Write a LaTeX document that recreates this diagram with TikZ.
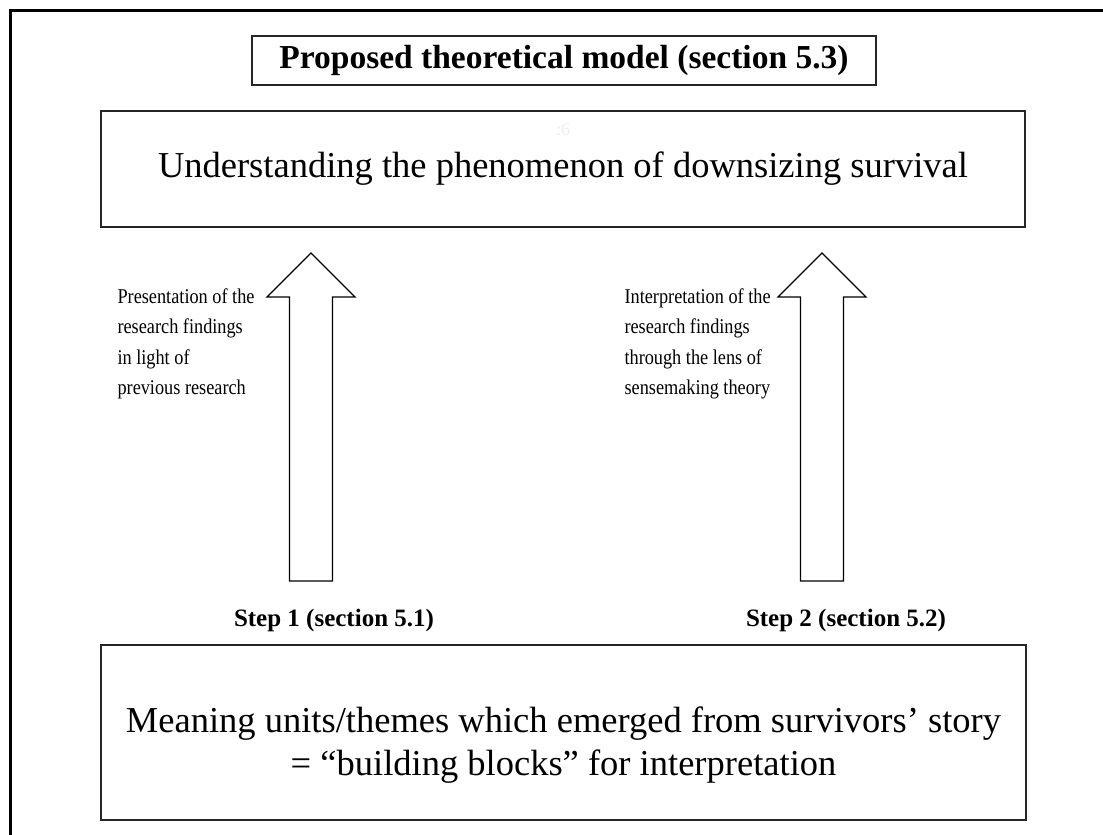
\documentclass[tikz,border=0pt]{standalone}
\usepackage{fontspec}
\setmainfont{Liberation Serif}
\newfontfamily\narrowserif[FakeStretch=0.87]{Liberation Serif}
\usetikzlibrary{calc}
\begin{document}
\begin{tikzpicture}[x=1pt,y=-1pt,
  frame/.style={line width=2.4pt},
  box/.style={draw=black!85,line width=1.4pt},
  blockarrow/.style={draw=black,line width=1.2pt,fill=white,line join=miter},
  maintext/.style={font=\fontsize{36.5}{43}\selectfont,align=center},
  sidetext/.style={font=\narrowserif\fontsize{21}{30.5}\selectfont,align=left,anchor=north west},
  steplabel/.style={font=\fontsize{25}{28}\selectfont\bfseries},
  pics/uparrow/.style={code={
    \draw[blockarrow] (-21.5,0) -- (-21.5,-284) -- (-44,-284) -- (0,-328)
      -- (44,-284) -- (21.5,-284) -- (21.5,0) -- cycle;}}]
\useasboundingbox (0,0) rectangle (1103,835);
% page frame (left and top edges)
\draw[frame] (10.5,835) -- (10.5,10.5) -- (1103,10.5);

% title
\node[box,minimum width=624,minimum height=49,font=\fontsize{33.5}{36}\selectfont\bfseries]
  (title) at (564,60.5) {Proposed theoretical model (section 5.3)};

% upper box
\node[box,minimum width=924,minimum height=116,maintext] (model) at (563,169) {};
\node[maintext] (modeltext) at (model.center) {Understanding the phenomenon of downsizing survival};
\node[text=black!7,font=\fontsize{18}{20}\selectfont] (mark) at (563,130) {:6};

% lower box
\node[box,minimum width=925,minimum height=175,maintext] (units) at (563.5,732.5) {};
\node[maintext] (unitstext) at ($(units.center)+(0,13)$)
  {Meaning units/themes which emerged from survivors’ story\\= “building blocks” for interpretation};

% arrow bases and block arrows
\coordinate (a1) at (311,581);
\coordinate (a2) at (822,581);
\pic at (a1) {uparrow};
\pic at (a2) {uparrow};

% side texts
\node[sidetext] (t1) at (114,285) {Presentation of the\\research findings\\in light of\\previous research};
\node[sidetext] (t2) at (621,285) {Interpretation of the\\research findings\\through the lens of\\sensemaking theory};

% step labels
\node[steplabel] (s1) at (334,620) {Step 1 (section 5.1)};
\node[steplabel] (s2) at (846,620) {Step 2 (section 5.2)};
\end{tikzpicture}
\end{document}
